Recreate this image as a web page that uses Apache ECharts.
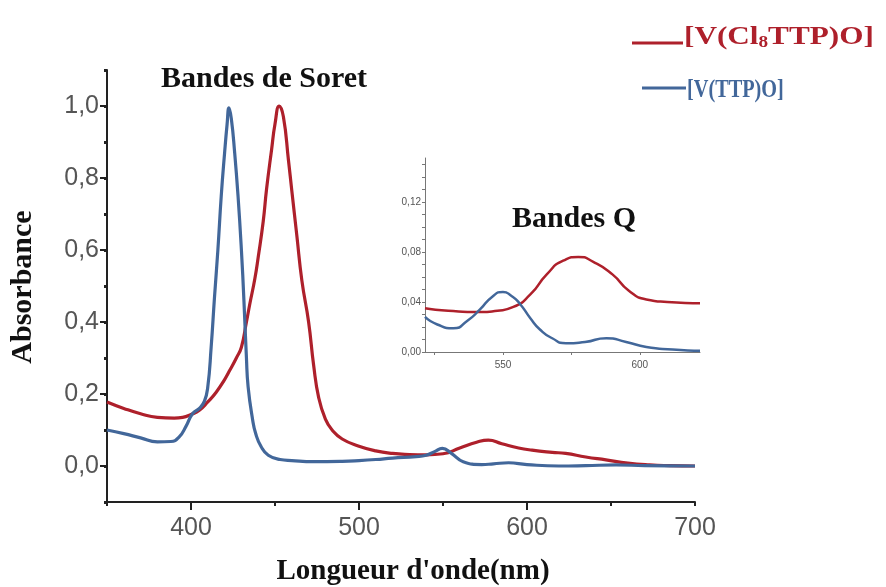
<!DOCTYPE html>
<html>
<head>
<meta charset="utf-8">
<script src="https://cdn.jsdelivr.net/npm/echarts@6/dist/echarts.min.js"></script>
<style>
  html, body { margin: 0; padding: 0; background: #fff; }
  #chart { width: 886px; height: 587px; }
</style>
</head>
<body>
<div id="chart"></div>
<script>
// [V(Cl8TTP)O] - main spectrum
const redNm = [350, 360, 370, 380, 390, 395, 400, 405, 410, 415, 420, 423, 427, 430, 433, 435, 438, 440, 443, 445, 448, 450, 452.5, 455, 458, 460, 463, 466, 470, 473, 476, 480, 484, 490, 500, 510, 520, 530, 540, 550, 560, 570, 577, 585, 595, 603, 615, 623, 635, 647, 660, 673, 685, 700];
const redAbs = [0.178, 0.16, 0.145, 0.135, 0.133, 0.135, 0.143, 0.155, 0.178, 0.205, 0.24, 0.265, 0.3, 0.33, 0.4, 0.45, 0.52, 0.58, 0.68, 0.77, 0.88, 0.95, 1.0, 0.97, 0.85, 0.765, 0.64, 0.515, 0.4, 0.28, 0.19, 0.13, 0.1, 0.075, 0.055, 0.042, 0.035, 0.032, 0.031, 0.034, 0.05, 0.066, 0.072, 0.062, 0.05, 0.044, 0.038, 0.035, 0.025, 0.017, 0.008, 0.003, 0.001, 0.0];

// [V(TTP)O] - main spectrum
const blueNm = [350, 360, 370, 380, 388, 393, 397, 401, 405, 408, 410, 412, 414, 416, 418, 420, 421.5, 422.6, 424, 426, 428, 430, 431.5, 433, 434, 436.7, 438.5, 441.7, 446, 453, 460, 473, 490, 500, 510, 520, 534, 540, 545, 549.6, 555, 562, 573, 580, 589, 600, 619, 635, 653, 670, 700];
const blueAbs = [0.1, 0.09, 0.078, 0.067, 0.068, 0.081, 0.11, 0.146, 0.16, 0.18, 0.22, 0.33, 0.47, 0.6, 0.75, 0.87, 0.95, 0.995, 0.965, 0.87, 0.75, 0.6, 0.46, 0.3, 0.22, 0.128, 0.09, 0.054, 0.03, 0.018, 0.015, 0.012, 0.013, 0.015, 0.018, 0.022, 0.026, 0.03, 0.04, 0.049, 0.035, 0.012, 0.004, 0.006, 0.009, 0.004, 0.0, 0.001, 0.003, 0.001, 0.0];

// Q bands (inset)
const qRedNm = [521.5, 530, 541.6, 548, 553.8, 560, 566, 572, 577.5, 583, 590, 596, 602.4, 610, 622];
const qRedAbs = [0.035, 0.033, 0.032, 0.033, 0.036, 0.046, 0.062, 0.073, 0.076, 0.072, 0.062, 0.049, 0.042, 0.04, 0.039];
const qBlueNm = [521.5, 526, 531.9, 537, 541.6, 546, 550, 553, 556, 560, 563.5, 568, 573, 580, 587.8, 595, 602.4, 612, 622];
const qBlueAbs = [0.028, 0.022, 0.019, 0.025, 0.034, 0.044, 0.048, 0.045, 0.039, 0.027, 0.018, 0.011, 0.007, 0.008, 0.011, 0.008, 0.004, 0.002, 0.001];

const mainXLabels = [400, 500, 600, 700];
const mainXMajor = [400, 500, 600];
const mainYLabels = [0, 0.2, 0.4, 0.6, 0.8, 1.0];
const qXTicks = [525, 550, 575, 600];
const qXLabels = [550, 600];
const qYTicks = [0, 0.01, 0.02, 0.03, 0.04, 0.05, 0.06, 0.07, 0.08, 0.09, 0.1, 0.11, 0.12, 0.13, 0.14, 0.15];
const qYLabels = [0, 0.04, 0.08, 0.12];

const RED = '#ae202b';
const BLUE = '#42679a';
const SERIF = 'Liberation Serif';
const SANS = 'Liberation Sans';

const zip = (xs, ys) => xs.map((x, i) => [x, ys[i]]);
const comma = (v, d) => v.toFixed(d).replace('.', ',');
const near = (list, v) => list.some(t => Math.abs(t - v) < 1e-6);

const chart = echarts.init(document.getElementById('chart'));

const axisLine = { onZero: false, lineStyle: { color: '#222', width: 2 } };
const insetLine = { onZero: false, lineStyle: { color: '#777', width: 1 } };
const tickStyle = { color: '#222', width: 2 };

const option = {
    animation: false,
    grid: [
        { left: 107, right: 191, top: 70, bottom: 85 },
        { left: 425, right: 186, top: 158, bottom: 235 }
    ],
    xAxis: [
        {
            type: 'value', gridIndex: 0, position: 'bottom', min: 350, max: 700, interval: 50,
            splitLine: { show: false },
            axisLine: axisLine,
            axisTick: { length: 4, lineStyle: tickStyle },
            axisLabel: {
                margin: 14, color: '#555', fontFamily: SANS, fontSize: 25,
                formatter: v => near(mainXLabels, v) ? String(v) : ''
            }
        },
        {
            type: 'value', gridIndex: 1, position: 'bottom', min: 521.5, max: 622,
            splitLine: { show: false },
            axisLine: insetLine,
            axisTick: { customValues: qXTicks, length: 3, lineStyle: { color: '#777' } },
            axisLabel: { customValues: qXLabels, margin: 8, color: '#555', fontFamily: SANS, fontSize: 10 }
        },
        {
            // longer ticks at the labelled wavelengths
            type: 'value', gridIndex: 0, position: 'bottom', min: 350, max: 700,
            splitLine: { show: false },
            axisLine: { show: false, onZero: false },
            axisTick: { customValues: mainXMajor, length: 8, lineStyle: tickStyle },
            axisLabel: { show: false }
        }
    ],
    yAxis: [
        {
            type: 'value', gridIndex: 0, position: 'left', min: -0.1, max: 1.1, interval: 0.1,
            splitLine: { show: false },
            axisLine: axisLine,
            axisTick: { length: 3, lineStyle: { color: '#222', width: 3 } },
            axisLabel: {
                margin: 8, color: '#555', fontFamily: SANS, fontSize: 25,
                formatter: v => near(mainYLabels, v) ? comma(v, 1) : ''
            }
        },
        {
            type: 'value', gridIndex: 1, position: 'left', min: 0, max: 0.155,
            splitLine: { show: false },
            axisLine: insetLine,
            axisTick: { customValues: qYTicks, length: 3, lineStyle: { color: '#777' } },
            axisLabel: {
                customValues: qYLabels, margin: 4, color: '#555', fontFamily: SANS, fontSize: 10,
                formatter: v => comma(v, 2)
            }
        },
        {
            // longer ticks at the labelled absorbances
            type: 'value', gridIndex: 0, position: 'left', min: -0.1, max: 1.1,
            splitLine: { show: false },
            axisLine: { show: false, onZero: false },
            axisTick: { customValues: mainYLabels, length: 7, lineStyle: tickStyle },
            axisLabel: { show: false }
        }
    ],
    series: [
        {
            name: '[V(Cl8TTP)O]', type: 'line', xAxisIndex: 0, yAxisIndex: 0,
            data: zip(redNm, redAbs), showSymbol: false, smooth: 0.5,
            lineStyle: { color: RED, width: 3.2 }
        },
        {
            name: '[V(TTP)O]', type: 'line', xAxisIndex: 0, yAxisIndex: 0,
            data: zip(blueNm, blueAbs), showSymbol: false, smooth: 0.5,
            lineStyle: { color: BLUE, width: 3.2 }
        },
        {
            type: 'line', xAxisIndex: 1, yAxisIndex: 1,
            data: zip(qRedNm, qRedAbs), showSymbol: false, smooth: 0.6,
            lineStyle: { color: RED, width: 2.5 }
        },
        {
            type: 'line', xAxisIndex: 1, yAxisIndex: 1,
            data: zip(qBlueNm, qBlueAbs), showSymbol: false, smooth: 0.6,
            lineStyle: { color: BLUE, width: 2.5 }
        }
    ],
    graphic: [
        // annotations and axis titles
        { type: 'text', style: { text: 'Bandes de Soret', x: 264, y: 79, align: 'center', verticalAlign: 'middle', font: 'bold 30px ' + SERIF, fill: '#111' } },
        { type: 'text', style: { text: 'Bandes Q', x: 574, y: 219, align: 'center', verticalAlign: 'middle', font: 'bold 30px ' + SERIF, fill: '#111' } },
        { type: 'text', x: 23, y: 287, rotation: Math.PI / 2, style: { text: 'Absorbance', x: 0, y: 0, align: 'center', verticalAlign: 'middle', font: 'bold 30px ' + SERIF, fill: '#111' } },
        { type: 'text', style: { text: "Longueur d'onde(nm)", x: 413, y: 572, align: 'center', verticalAlign: 'middle', font: 'bold 29px ' + SERIF, fill: '#111' } },
        // legend
        { type: 'line', shape: { x1: 632, y1: 43, x2: 683, y2: 43 }, style: { stroke: RED, lineWidth: 3 } },
        {
            type: 'text', x: 684, y: 37, scaleX: 1.2,
            style: {
                text: '{n|[V(Cl}{s|8}{n|TTP)O]}', x: 0, y: 0, verticalAlign: 'middle',
                rich: {
                    n: { font: 'bold 26px ' + SERIF, fill: RED },
                    s: { font: 'bold 16px ' + SERIF, fill: RED, padding: [12, 0, 0, 0] }
                }
            }
        },
        { type: 'line', shape: { x1: 642, y1: 88, x2: 686, y2: 88 }, style: { stroke: BLUE, lineWidth: 3 } },
        {
            type: 'text', x: 687, y: 90, scaleX: 0.78,
            style: { text: '[V(TTP)O]', x: 0, y: 0, verticalAlign: 'middle', font: 'bold 26px ' + SERIF, fill: BLUE }
        }
    ]
};

chart.setOption(option);
</script>
</body>
</html>
